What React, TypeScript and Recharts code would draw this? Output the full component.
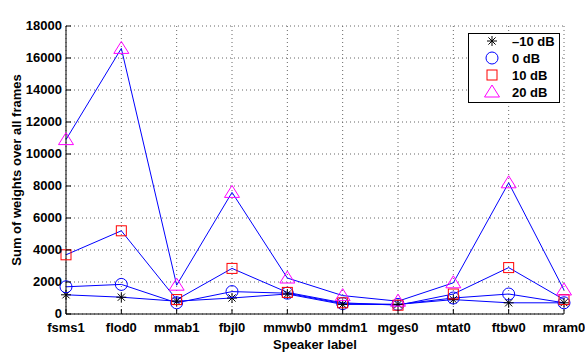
import React from 'react';
import { LineChart, Line, XAxis, YAxis, CartesianGrid, Legend, Label } from 'recharts';

const speakers = ['fsms1', 'flod0', 'mmab1', 'fbjl0', 'mmwb0', 'mmdm1', 'mges0', 'mtat0', 'ftbw0', 'mram0'];
const snrMinus10 = [1200, 1050, 800, 1000, 1250, 600, 600, 900, 700, 700];
const snr0 = [1700, 1850, 700, 1400, 1300, 650, 600, 1000, 1250, 700];
const snr10 = [3700, 5200, 900, 2850, 1350, 700, 550, 1250, 2900, 900];
const snr20 = [10900, 16600, 1800, 7600, 2250, 1150, 800, 1950, 8200, 1500];
const yTicks = [0, 2000, 4000, 6000, 8000, 10000, 12000, 14000, 16000, 18000];
const seriesNames = ['\u201310 dB', '0 dB', '10 dB', '20 dB'];

const data = speakers.map((s, i) => ({
  speaker: s,
  m10: snrMinus10[i],
  s0: snr0[i],
  s10: snr10[i],
  s20: snr20[i],
}));

const FONT = '"Liberation Sans", Arial, Helvetica, sans-serif';
const FS = 13;

const Asterisk = ({ cx, cy }: any) => (
  <g stroke="#000" strokeWidth={1} fill="none">
    <line x1={cx - 5} y1={cy} x2={cx + 5} y2={cy} />
    <line x1={cx} y1={cy - 5} x2={cx} y2={cy + 5} />
    <line x1={cx - 3.6} y1={cy - 3.6} x2={cx + 3.6} y2={cy + 3.6} />
    <line x1={cx - 3.6} y1={cy + 3.6} x2={cx + 3.6} y2={cy - 3.6} />
  </g>
);
const CircleM = ({ cx, cy }: any) => (
  <circle cx={cx} cy={cy} r={6} stroke="#0000ff" strokeWidth={1} fill="none" />
);
const SquareM = ({ cx, cy }: any) => (
  <rect x={cx - 5} y={cy - 5} width={10} height={10} stroke="#ff0000" strokeWidth={1} fill="none" />
);
const TriangleM = ({ cx, cy }: any) => (
  <polygon
    points={`${cx},${cy - 7} ${cx - 7.5},${cy + 5} ${cx + 7.5},${cy + 5}`}
    stroke="#ff00ff"
    strokeWidth={1}
    fill="none"
  />
);

const markers = [Asterisk, CircleM, SquareM, TriangleM];

const makeDot = (M: any) => (props: any) => (
  <g key={`d-${props.index}`}>
    <M cx={props.cx} cy={props.cy} />
  </g>
);

const XTick = ({ x, y, payload }: any) => (
  <g>
    <line x1={x} x2={x} y1={y} y2={y - 5} stroke="#000" />
    <text x={x} y={y + 18} textAnchor="middle" fontSize={FS} fontWeight="bold" fontFamily={FONT} fill="#000">
      {payload.value}
    </text>
  </g>
);
const YTick = ({ x, y, payload }: any) => (
  <g>
    <line x1={x} x2={x + 5} y1={y} y2={y} stroke="#000" />
    <text x={x - 4} y={y + 4} textAnchor="end" fontSize={FS} fontWeight="bold" fontFamily={FONT} fill="#000">
      {payload.value}
    </text>
  </g>
);
const TopTick = ({ x, y }: any) => <line x1={x} x2={x} y1={y} y2={y + 5} stroke="#000" />;
const RightTick = ({ x, y }: any) => <line x1={x} x2={x - 5} y1={y} y2={y} stroke="#000" />;

const LegendBox = () => {
  const rowsY = [8, 25, 42, 59];
  return (
    <svg width={92} height={70} style={{ display: 'block' }}>
      <rect x={0.5} y={0.5} width={91} height={69} fill="#fff" stroke="#000" strokeWidth={1} />
      {seriesNames.map((n, i) => {
        const M = markers[i];
        return (
          <g key={n}>
            <M cx={24} cy={rowsY[i]} />
            <text x={44} y={rowsY[i] + 4.5} fontSize={FS} fontWeight="bold" fontFamily={FONT} fill="#000">
              {n}
            </text>
          </g>
        );
      })}
    </svg>
  );
};

export default function App() {
  const keys = ['m10', 's0', 's10', 's20'];
  return (
    <div style={{ position: 'absolute', left: 0, top: 0, width: 585, height: 352, background: '#fff' }}>
      <LineChart
        width={585}
        height={352}
        data={data}
        margin={{ top: 26, right: 21, bottom: 0, left: 0 }}
        style={{ fontFamily: FONT }}
      >
        <CartesianGrid stroke="#666" strokeDasharray="1 3" />
        <XAxis
          dataKey="speaker"
          height={38}
          interval={0}
          tickSize={0}
          tickMargin={0}
          tick={<XTick />}
          axisLine={{ stroke: '#000' }}
        >
          <Label
            value="Speaker label"
            position="insideBottom"
            offset={3}
            style={{ fontSize: FS, fontWeight: 'bold', fontFamily: FONT, fill: '#000' }}
          />
        </XAxis>
        <XAxis
          xAxisId="top"
          dataKey="speaker"
          orientation="top"
          height={0}
          interval={0}
          tickSize={0}
          tickMargin={0}
          tick={<TopTick />}
          axisLine={{ stroke: '#000' }}
        >
          <Label
            value="Test TIMIT flod0 + factory1 noise"
            position="top"
            offset={10}
            style={{ fontSize: FS, fontWeight: 'bold', fontFamily: FONT, fill: '#000' }}
          />
        </XAxis>
        <YAxis
          width={66}
          domain={[0, 18000]}
          ticks={yTicks}
          interval={0}
          tickSize={0}
          tickMargin={0}
          tick={<YTick />}
          axisLine={{ stroke: '#000' }}
        >
          <Label
            value="Sum of weights over all frames"
            angle={-90}
            position="insideLeft"
            offset={16}
            style={{ fontSize: FS, fontWeight: 'bold', fontFamily: FONT, fill: '#000', textAnchor: 'middle' }}
          />
        </YAxis>
        <YAxis
          yAxisId="right"
          orientation="right"
          width={0}
          domain={[0, 18000]}
          ticks={yTicks}
          interval={0}
          tickSize={0}
          tickMargin={0}
          tick={<RightTick />}
          axisLine={{ stroke: '#000' }}
        />
        <Legend
          layout="vertical"
          align="center"
          verticalAlign="middle"
          content={() => <LegendBox />}
          wrapperStyle={{ left: 468, top: 33, width: 92, height: 70 }}
        />
        {keys.map((k, i) => (
          <Line
            key={k}
            dataKey={k}
            name={seriesNames[i]}
            stroke="#0000ff"
            strokeWidth={1}
            dot={makeDot(markers[i])}
            activeDot={false}
            isAnimationActive={false}
          />
        ))}
      </LineChart>
    </div>
  );
}
